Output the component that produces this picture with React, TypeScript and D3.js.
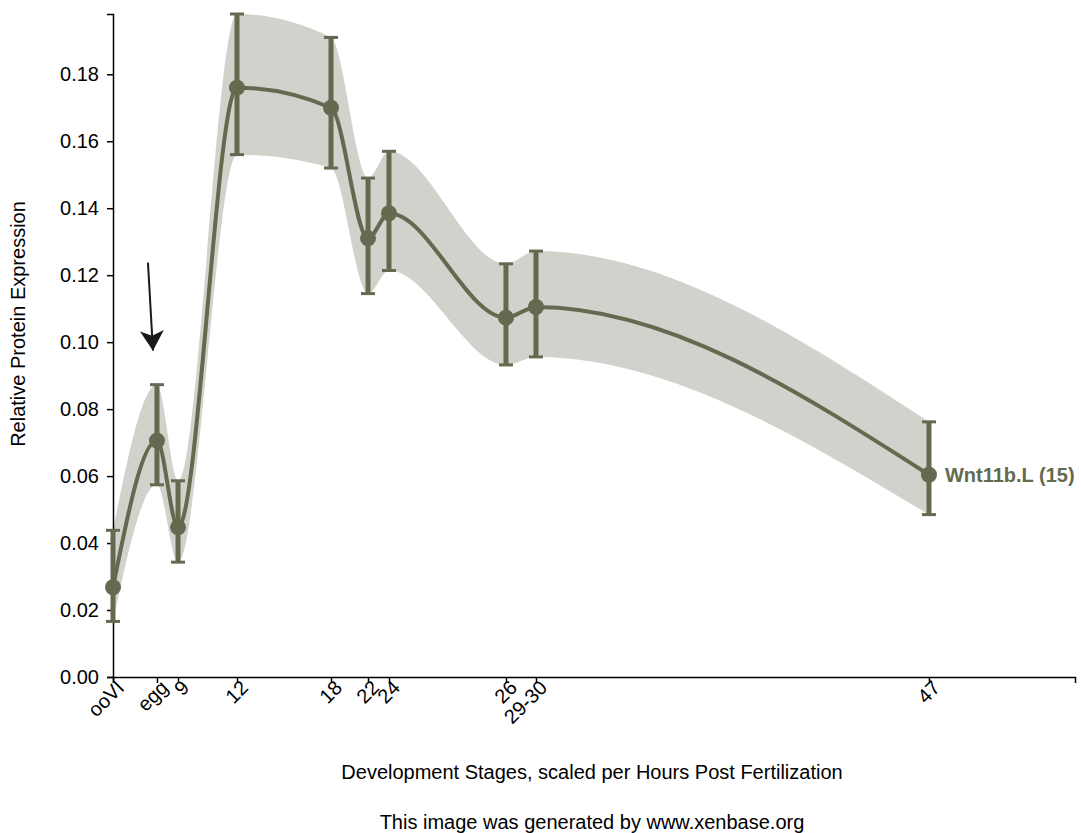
import React, { useEffect, useRef } from 'react';
import * as d3 from 'd3';

// stages along the x axis and their position on the hpf-scaled axis (0..100)
const stages = ['ooVI', 'egg', '9', '12', '18', '22', '24', '26', '29-30', '47'];
const stagePos = [0, 4.57, 6.76, 12.89, 22.66, 26.51, 28.69, 40.85, 43.97, 84.82];

// Wnt11b.L (15) expression, mean and error bounds
const meanValues = [0.0268, 0.0706, 0.0447, 0.176, 0.170, 0.131, 0.1385, 0.1073, 0.1105, 0.0604];
const upperValues = [0.0438, 0.0873, 0.0586, 0.198, 0.191, 0.149, 0.157, 0.1234, 0.1272, 0.0762];
const lowerValues = [0.0166, 0.0574, 0.0343, 0.156, 0.152, 0.1145, 0.1214, 0.0932, 0.0956, 0.0485];

const yTicks = [0, 0.02, 0.04, 0.06, 0.08, 0.1, 0.12, 0.14, 0.16, 0.18];

const seriesName = 'Wnt11b.L (15)';
const lineColor = '#646a4f';
const bandColor = '#d1d2cc';
const font = '"Liberation Sans", Arial, Helvetica, sans-serif';

const App = () => {
  const ref = useRef<SVGSVGElement>(null);

  useEffect(() => {
    const svg = d3.select(ref.current);
    svg.selectAll('*').remove();

    const margin = { top: 14, left: 113 };
    const width = 962;
    const height = 663;

    const g = svg.append('g').attr('transform', `translate(${margin.left},${margin.top})`);

    const x = d3.scaleLinear().domain([0, 100]).range([0, width]);
    const y = d3.scaleLinear().domain([0, 0.198]).range([height, 0]);

    const data = stages.map((s, i) => ({
      stage: s,
      pos: stagePos[i],
      mean: meanValues[i],
      hi: upperValues[i],
      lo: lowerValues[i],
    }));

    // shaded band
    const area = d3.area<any>()
      .x(d => x(d.pos))
      .y0(d => y(d.lo))
      .y1(d => y(d.hi))
      .curve(d3.curveMonotoneX);

    g.append('path')
      .datum(data)
      .attr('d', area)
      .attr('fill', bandColor);

    // axes
    const xAxis = g.append('g')
      .attr('transform', `translate(0,${height})`)
      .call(d3.axisBottom(x).tickValues(stagePos).tickFormat((d, i) => stages[i]).tickSizeOuter(6));
    xAxis.selectAll('text')
      .attr('x', 0)
      .attr('y', 0)
      .attr('dy', '0.35em')
      .attr('transform', 'translate(7,7) rotate(-45)')
      .attr('text-anchor', 'end');

    const yAxis = g.append('g')
      .call(d3.axisLeft(y).tickValues(yTicks).tickFormat(d3.format('.2f')).tickSizeOuter(6));
    yAxis.selectAll('text').attr('x', -14);

    [xAxis, yAxis].forEach(a => {
      a.attr('font-size', 20).attr('font-family', font);
      a.selectAll('text').attr('fill', '#000');
      a.selectAll('line').attr('stroke', '#000').attr('stroke-width', 1.5);
      a.select('.domain').attr('stroke', '#000').attr('stroke-width', 1.5);
    });

    // mean line
    const line = d3.line<any>()
      .x(d => x(d.pos))
      .y(d => y(d.mean))
      .curve(d3.curveMonotoneX);

    g.append('path')
      .datum(data)
      .attr('d', line)
      .attr('fill', 'none')
      .attr('stroke', lineColor)
      .attr('stroke-width', 4);

    // error bars
    const bars = g.append('g').selectAll('g').data(data).join('g');
    bars.append('line')
      .attr('x1', d => x(d.pos)).attr('x2', d => x(d.pos))
      .attr('y1', d => y(d.hi)).attr('y2', d => y(d.lo))
      .attr('stroke', lineColor).attr('stroke-width', 5);
    bars.append('line')
      .attr('x1', d => x(d.pos) - 7).attr('x2', d => x(d.pos) + 7)
      .attr('y1', d => y(d.hi)).attr('y2', d => y(d.hi))
      .attr('stroke', lineColor).attr('stroke-width', 3);
    bars.append('line')
      .attr('x1', d => x(d.pos) - 7).attr('x2', d => x(d.pos) + 7)
      .attr('y1', d => y(d.lo)).attr('y2', d => y(d.lo))
      .attr('stroke', lineColor).attr('stroke-width', 3);

    // points
    g.append('g').selectAll('circle').data(data).join('circle')
      .attr('cx', d => x(d.pos))
      .attr('cy', d => y(d.mean))
      .attr('r', 8)
      .attr('fill', lineColor);

    // series label next to the last point
    const last = data[data.length - 1];
    g.append('text')
      .attr('x', x(last.pos) + 16)
      .attr('y', y(last.mean))
      .attr('dy', '0.35em')
      .attr('font-size', 20)
      .attr('font-weight', 'bold')
      .attr('font-family', font)
      .attr('fill', lineColor)
      .text(seriesName);

    // arrow pointing at the egg stage
    const egg = data[1];
    const tipX = x(egg.pos) - 4;
    const tipY = y(egg.hi) - 34;
    svg.append('defs').append('marker')
      .attr('id', 'arrowhead')
      .attr('viewBox', '0 0 10 12')
      .attr('refX', 10).attr('refY', 6)
      .attr('markerWidth', 20).attr('markerHeight', 24)
      .attr('markerUnits', 'userSpaceOnUse')
      .attr('orient', 'auto')
      .append('path')
      .attr('d', 'M0,0 L10,6 L0,12 L2.5,6 Z')
      .attr('fill', '#1a1a1a');
    g.append('line')
      .attr('x1', tipX - 5).attr('y1', tipY - 88)
      .attr('x2', tipX).attr('y2', tipY)
      .attr('stroke', '#1a1a1a')
      .attr('stroke-width', 2)
      .attr('marker-end', 'url(#arrowhead)');

    // titles
    svg.append('text')
      .attr('transform', 'translate(25,324) rotate(-90)')
      .attr('text-anchor', 'middle')
      .attr('font-size', 20)
      .attr('font-family', font)
      .text('Relative Protein Expression');
    svg.append('text')
      .attr('x', 592).attr('y', 779)
      .attr('text-anchor', 'middle')
      .attr('font-size', 20)
      .attr('font-family', font)
      .text('Development Stages, scaled per Hours Post Fertilization');
    svg.append('text')
      .attr('x', 592).attr('y', 829)
      .attr('text-anchor', 'middle')
      .attr('font-size', 20)
      .attr('font-family', font)
      .text('This image was generated by www.xenbase.org');
  }, []);

  return (
    <svg
      ref={ref}
      width={1081}
      height={833}
      style={{ position: 'absolute', left: 0, top: 0, background: '#fff' }}
    />
  );
};

export default App;
